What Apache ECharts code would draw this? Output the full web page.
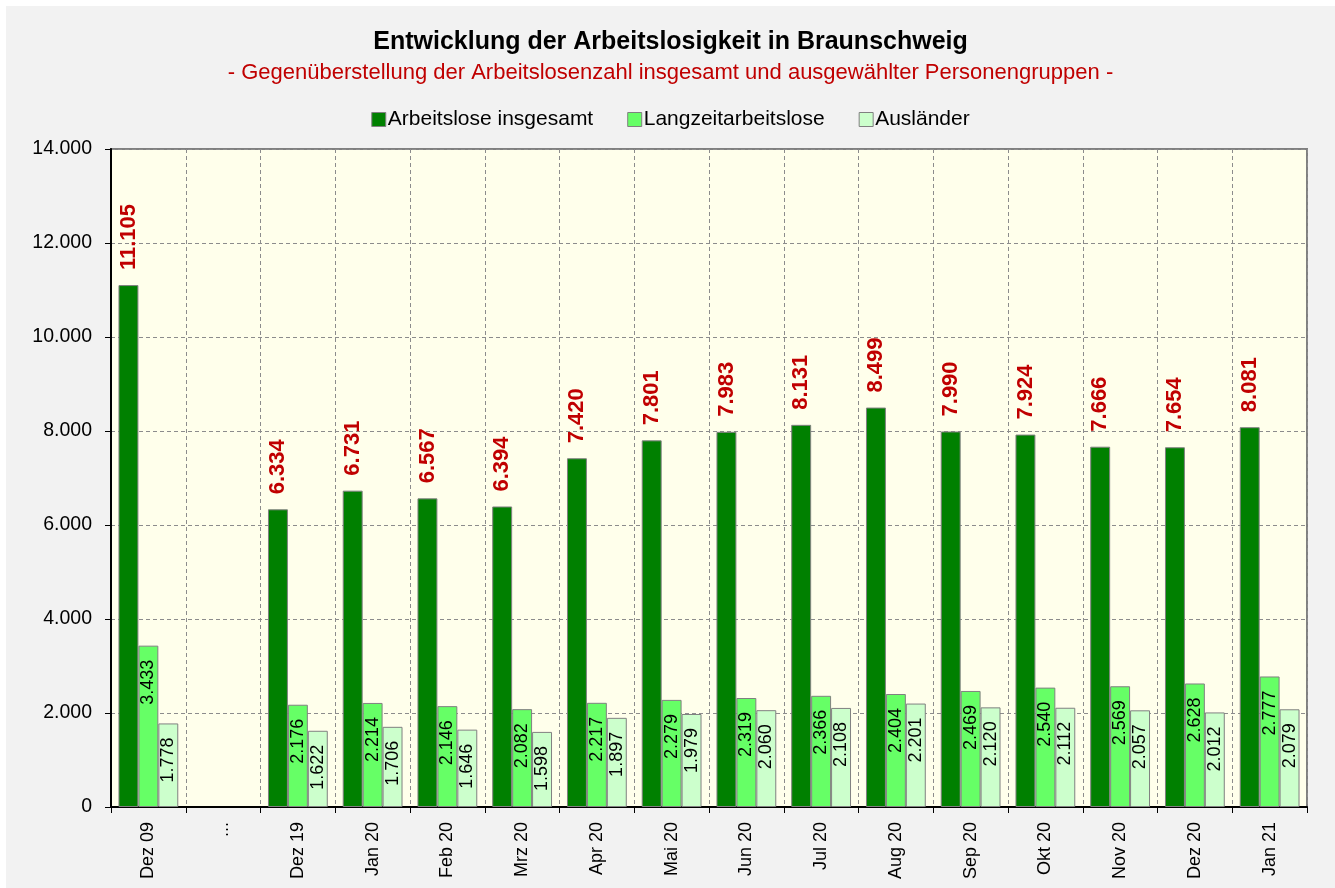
<!DOCTYPE html>
<html>
<head>
<meta charset="utf-8">
<script src="https://cdn.jsdelivr.net/npm/echarts@6/dist/echarts.min.js"></script>
<style>
  html, body { margin: 0; padding: 0; background: #fff; }
  #chart { position: absolute; left: 6px; top: 6px; width: 1329px; height: 882px; }
</style>
</head>
<body>
<div id="chart"></div>
<script>
// Monate (die Lücke zwischen Dez 09 und Dez 19 wird als "..." dargestellt)
const months = ['Dez 09', '...', 'Dez 19', 'Jan 20', 'Feb 20', 'Mrz 20', 'Apr 20', 'Mai 20',
  'Jun 20', 'Jul 20', 'Aug 20', 'Sep 20', 'Okt 20', 'Nov 20', 'Dez 20', 'Jan 21'];
const insgesamt = [11105, '-', 6334, 6731, 6567, 6394, 7420, 7801, 7983, 8131, 8499, 7990, 7924, 7666, 7654, 8081];
const langzeit = [3433, '-', 2176, 2214, 2146, 2082, 2217, 2279, 2319, 2366, 2404, 2469, 2540, 2569, 2628, 2777];
const auslaender = [1778, '-', 1622, 1706, 1646, 1598, 1897, 1979, 2060, 2108, 2201, 2120, 2112, 2057, 2012, 2079];

const FONT = 'Liberation Sans, Arial, sans-serif';
const fmt = (v) => String(v).replace(/\B(?=(\d{3})+(?!\d))/g, '.');

const chart = echarts.init(document.getElementById('chart'));

const innerLabel = {
  show: true,
  position: 'insideTop',
  rotate: 90,
  align: 'right',
  verticalAlign: 'middle',
  distance: 14,
  color: '#000',
  fontSize: 18,
  fontFamily: FONT,
  formatter: (p) => fmt(p.value),
};

const option = {
  backgroundColor: '#F2F2F2',
  animation: false,
  textStyle: { fontFamily: FONT },
  title: [
    {
      text: 'Entwicklung der Arbeitslosigkeit in Braunschweig',
      left: 'center',
      top: 19,
      textStyle: { fontSize: 25, fontWeight: 'bold', color: '#000', fontFamily: FONT },
    },
    {
      text: '- Gegenüberstellung der Arbeitslosenzahl insgesamt und ausgewählter Personengruppen -',
      left: 'center',
      top: 51,
      textStyle: { fontSize: 22, fontWeight: 'normal', color: '#C00000', fontFamily: FONT },
    },
  ],
  legend: {
    top: 98,
    left: 'center',
    itemWidth: 14,
    itemHeight: 14,
    itemGap: 34,
    icon: 'rect',
    textStyle: { fontSize: 21, color: '#000', fontFamily: FONT, padding: [0, 0, 0, -3] },
    itemStyle: { borderColor: '#808080', borderWidth: 1 },
    data: ['Arbeitslose insgesamt', 'Langzeitarbeitslose', 'Ausländer'],
  },
  grid: {
    left: 105,
    top: 143,
    width: 1196,
    height: 658,
    show: true,
    backgroundColor: '#FFFFEB',
    borderColor: '#808080',
    borderWidth: 2,
  },
  xAxis: {
    type: 'category',
    data: months,
    axisLine: { lineStyle: { color: '#000', width: 2 } },
    axisTick: { show: true, alignWithLabel: false, length: 6, lineStyle: { color: '#000' } },
    axisLabel: { rotate: 90, fontSize: 18, color: '#000', margin: 15, interval: 0, fontFamily: FONT },
    splitLine: { show: true, interval: 0, lineStyle: { color: '#8C8C8C', type: [4, 3], width: 1 } },
  },
  yAxis: {
    type: 'value',
    min: 0,
    max: 14000,
    interval: 2000,
    axisLine: { show: true, lineStyle: { color: '#000', width: 2 } },
    axisTick: { show: true, length: 6, lineStyle: { color: '#000' } },
    axisLabel: { fontSize: 19.5, color: '#000', margin: 19, fontFamily: FONT, formatter: (v) => fmt(v) },
    splitLine: { show: true, lineStyle: { color: '#8C8C8C', type: [4, 3], width: 1 } },
  },
  series: [
    {
      name: 'Arbeitslose insgesamt',
      type: 'bar',
      data: insgesamt,
      barGap: '0%',
      barCategoryGap: '20%',
      itemStyle: { color: '#008000', borderColor: '#808080', borderWidth: 1 },
      label: {
        show: true,
        position: 'top',
        rotate: 90,
        align: 'left',
        verticalAlign: 'middle',
        distance: 15,
        color: '#C00000',
        fontSize: 22,
        fontWeight: 'bold',
        fontFamily: FONT,
        formatter: (p) => fmt(p.value),
      },
    },
    {
      name: 'Langzeitarbeitslose',
      type: 'bar',
      data: langzeit,
      itemStyle: { color: '#66FF66', borderColor: '#808080', borderWidth: 1 },
      label: innerLabel,
    },
    {
      name: 'Ausländer',
      type: 'bar',
      data: auslaender,
      itemStyle: { color: '#CCFFCC', borderColor: '#808080', borderWidth: 1 },
      label: innerLabel,
    },
  ],
};

chart.setOption(option);
</script>
</body>
</html>
